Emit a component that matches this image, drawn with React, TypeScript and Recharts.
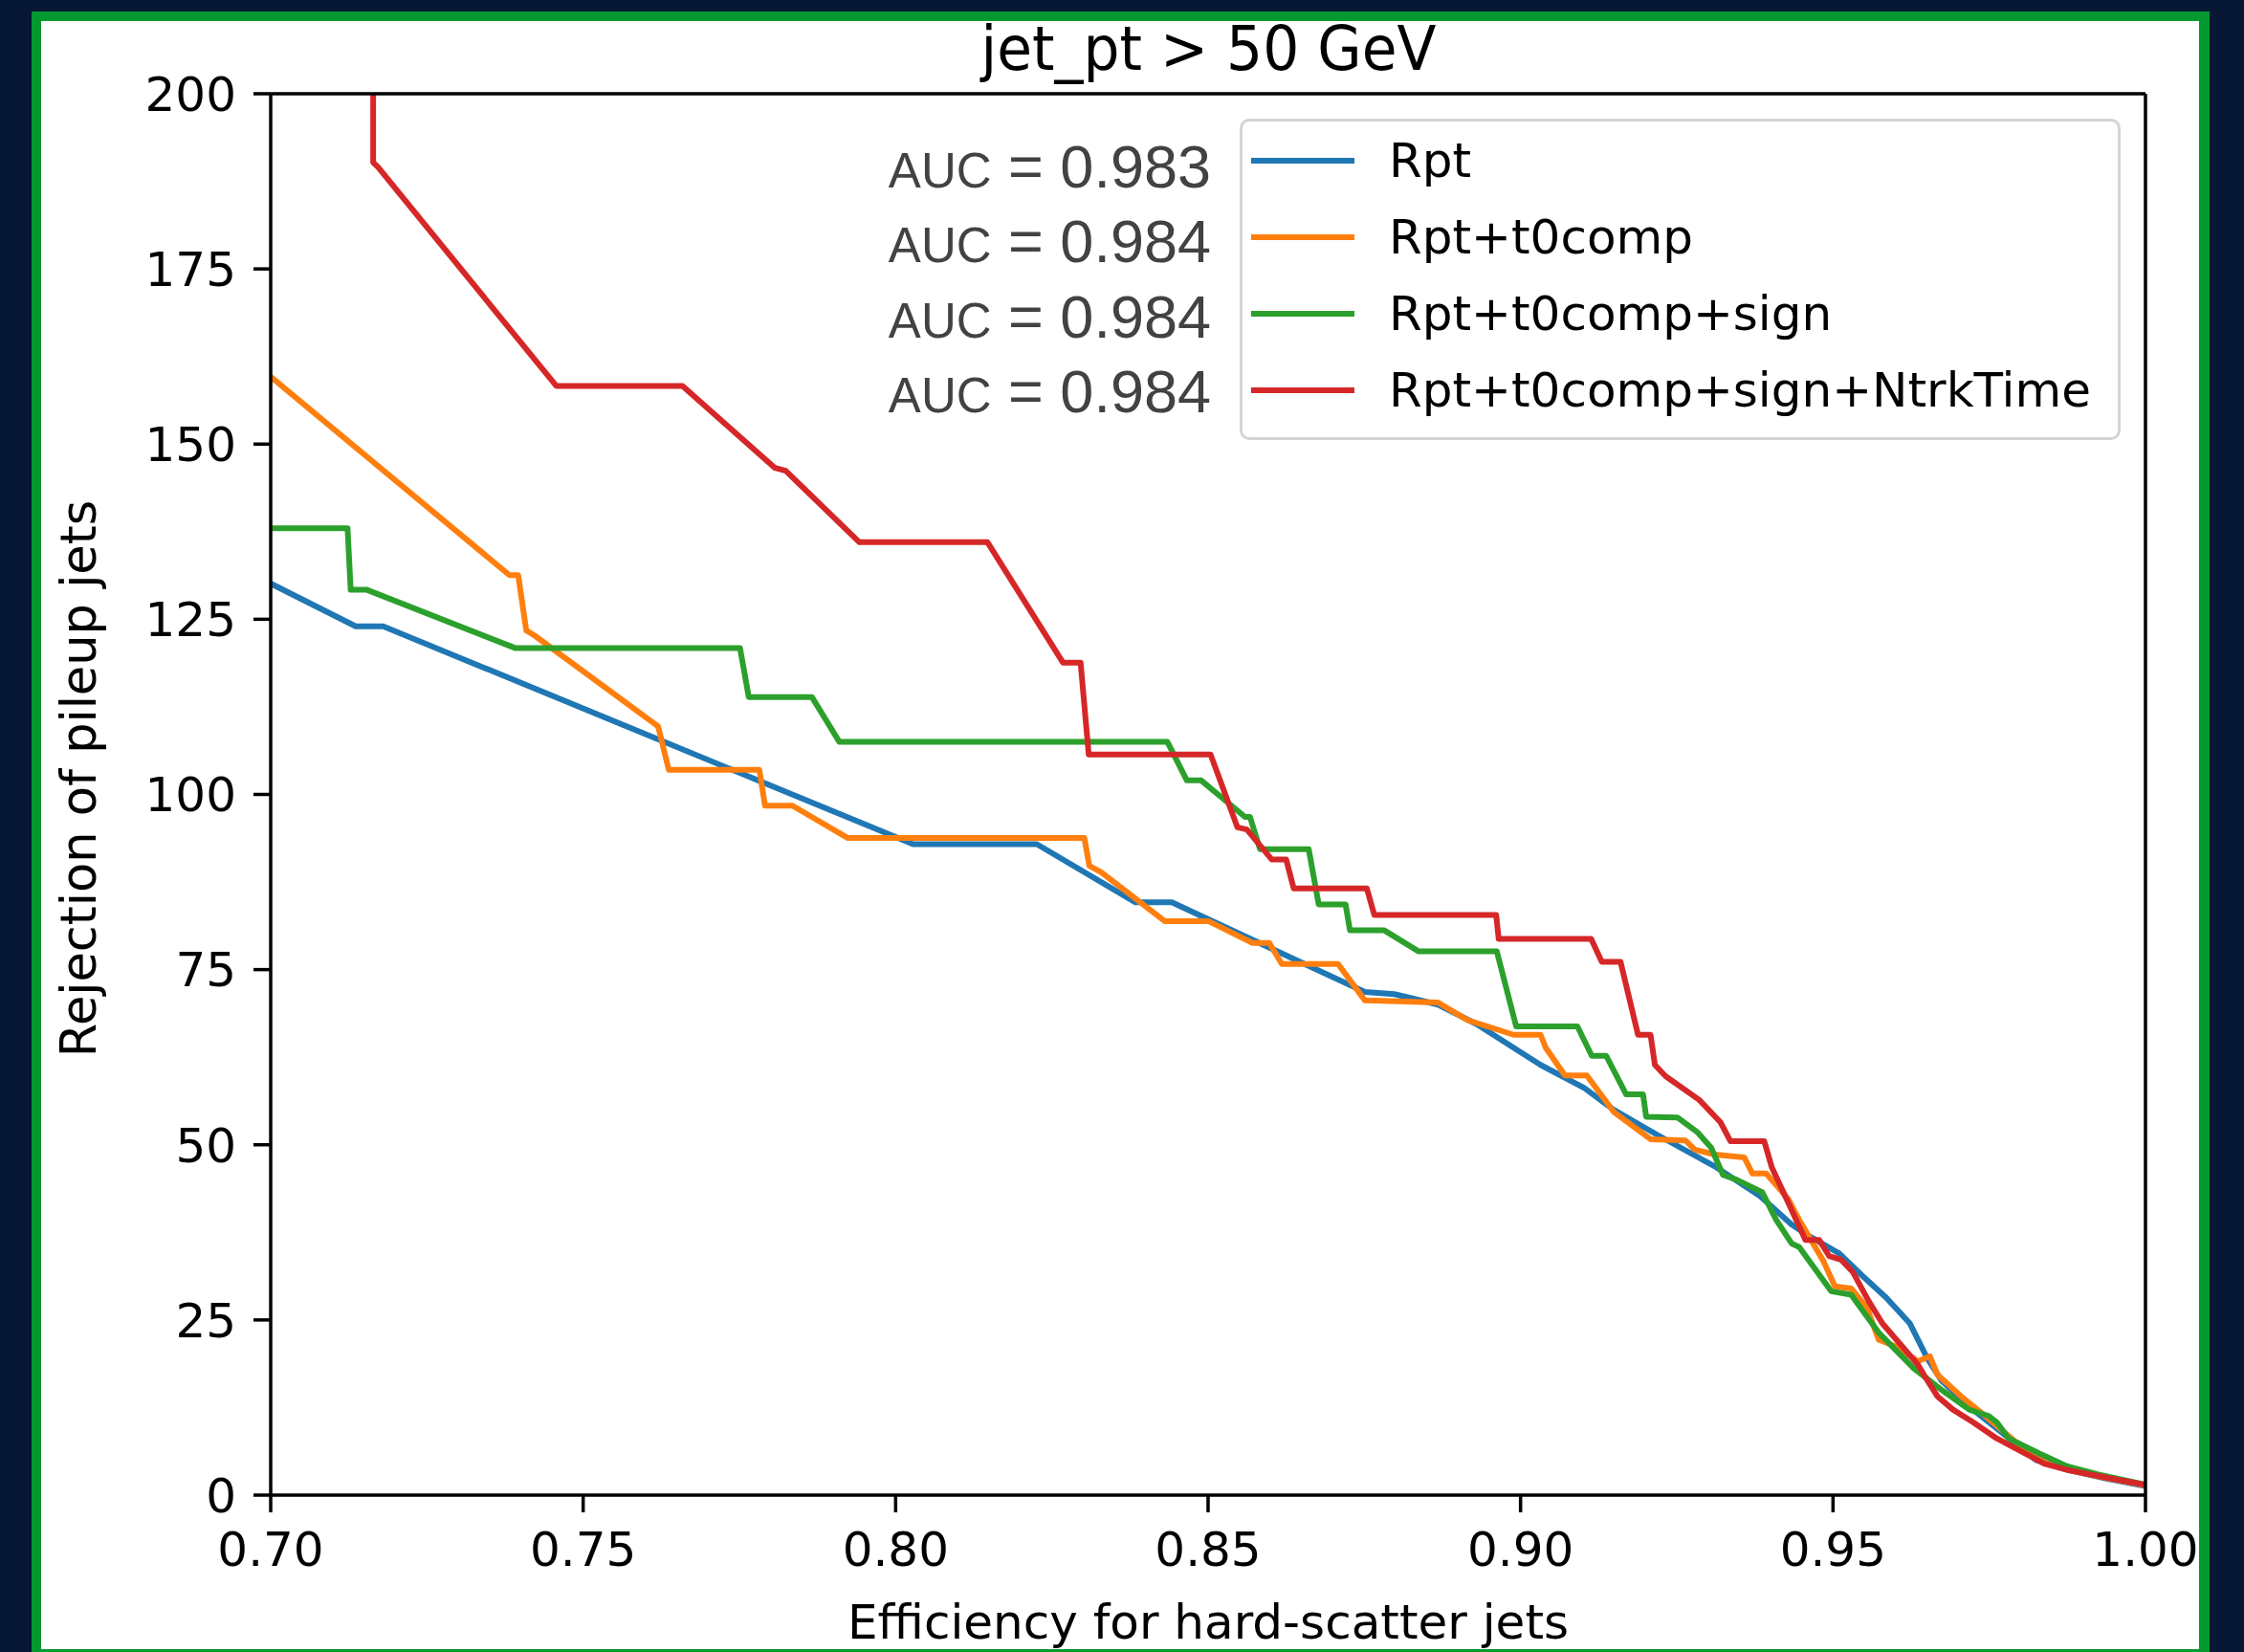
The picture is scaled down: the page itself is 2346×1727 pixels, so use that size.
import React from 'react';
import { LineChart, Line, XAxis, YAxis, Legend, ReferenceLine } from 'recharts';

// axis ticks
const xTicks = [0.7, 0.75, 0.8, 0.85, 0.9, 0.95, 1.0];
const yTicks = [0, 25, 50, 75, 100, 125, 150, 175, 200];

// Rpt
const rptEff = [0.7, 0.7136, 0.718, 0.8028, 0.8226, 0.8384, 0.8442, 0.8751, 0.8798, 0.8868, 0.893, 0.9032, 0.9102, 0.9149, 0.9219, 0.9313, 0.9383, 0.9434, 0.9465, 0.951, 0.9547, 0.9585, 0.9623, 0.9651, 0.9674, 0.9724, 0.9768, 0.9825, 0.9875, 0.993, 1.0];
const rptRej = [130.1, 124.0, 124.0, 92.9, 92.9, 84.6, 84.6, 71.8, 71.5, 70.0, 67.2, 61.4, 58.1, 55.0, 51.4, 46.8, 42.7, 38.6, 36.8, 34.5, 31.3, 28.2, 24.5, 19.5, 16.3, 12.2, 9.1, 5.0, 3.6, 2.5, 1.3];

// Rpt+t0comp
const t0Eff = [0.7, 0.7382, 0.7396, 0.7409, 0.7422, 0.762, 0.7637, 0.7782, 0.7791, 0.7835, 0.7923, 0.8302, 0.831, 0.8329, 0.8431, 0.8501, 0.8571, 0.8598, 0.8618, 0.8708, 0.8751, 0.8868, 0.8915, 0.8989, 0.9032, 0.904, 0.9071, 0.9106, 0.9149, 0.9208, 0.9264, 0.9279, 0.9311, 0.9358, 0.9371, 0.9393, 0.9428, 0.9447, 0.9484, 0.9503, 0.9529, 0.9554, 0.9573, 0.9598, 0.9636, 0.9655, 0.9667, 0.9705, 0.9749, 0.98, 0.984, 0.988, 0.993, 1.0];
const t0Rej = [159.6, 131.3, 131.3, 123.4, 122.7, 109.7, 103.5, 103.5, 98.4, 98.4, 93.8, 93.8, 89.8, 88.9, 81.9, 81.9, 78.8, 78.8, 75.8, 75.8, 70.6, 70.3, 67.8, 65.7, 65.7, 63.9, 59.9, 59.9, 54.7, 50.8, 50.6, 49.3, 48.6, 48.2, 45.9, 45.9, 42.3, 39.1, 33.5, 29.8, 29.5, 26.8, 22.2, 21.3, 19.1, 19.8, 17.2, 14.1, 10.9, 7.0, 4.6, 3.5, 2.6, 1.4];

// Rpt+t0comp+sign
const signEff = [0.7, 0.7123, 0.7128, 0.7154, 0.7391, 0.7751, 0.7765, 0.7866, 0.791, 0.8435, 0.8466, 0.8489, 0.8559, 0.8567, 0.8583, 0.8661, 0.8677, 0.872, 0.8727, 0.8782, 0.8837, 0.8962, 0.8993, 0.9091, 0.9114, 0.9137, 0.9169, 0.9196, 0.9201, 0.9251, 0.9283, 0.9305, 0.9324, 0.9346, 0.9387, 0.9409, 0.9434, 0.9446, 0.9497, 0.9529, 0.9573, 0.9629, 0.9674, 0.9718, 0.9749, 0.9762, 0.9781, 0.9831, 0.9875, 0.9926, 1.0];
const signRej = [138.0, 138.0, 129.2, 129.2, 120.9, 120.9, 113.9, 113.9, 107.5, 107.5, 102.0, 102.0, 96.8, 96.8, 92.2, 92.2, 84.3, 84.3, 80.6, 80.6, 77.6, 77.6, 66.9, 66.9, 62.7, 62.7, 57.2, 57.2, 54.0, 53.9, 51.8, 49.6, 45.7, 45.0, 43.2, 39.3, 35.9, 35.4, 29.1, 28.6, 23.2, 18.1, 15.0, 12.2, 11.3, 10.4, 8.1, 5.9, 4.1, 2.9, 1.5];

// Rpt+t0comp+sign+NtrkTime
const ntrkEff = [0.7164, 0.7164, 0.7172, 0.7457, 0.7659, 0.7807, 0.7824, 0.7942, 0.8147, 0.8268, 0.8296, 0.8309, 0.8504, 0.8547, 0.8562, 0.8602, 0.8625, 0.8637, 0.8754, 0.8766, 0.8961, 0.8965, 0.9113, 0.913, 0.916, 0.9188, 0.9208, 0.9215, 0.9232, 0.9286, 0.932, 0.9336, 0.939, 0.9402, 0.9428, 0.9456, 0.9478, 0.9494, 0.9513, 0.9532, 0.9557, 0.9579, 0.961, 0.9636, 0.9648, 0.9667, 0.9692, 0.9724, 0.9762, 0.98, 0.9838, 0.9875, 0.9926, 0.9998];
const ntrkRej = [250, 190.2, 189.5, 158.3, 158.3, 146.6, 146.2, 136.0, 136.0, 118.8, 118.8, 105.7, 105.7, 95.3, 95.0, 90.7, 90.7, 86.6, 86.6, 82.8, 82.8, 79.4, 79.4, 76.1, 76.1, 65.7, 65.7, 61.4, 59.8, 56.4, 53.2, 50.5, 50.5, 46.8, 41.8, 36.4, 36.4, 34.1, 33.6, 31.8, 27.7, 24.5, 21.3, 18.6, 16.8, 14.1, 12.2, 10.4, 8.1, 6.3, 4.5, 3.6, 2.7, 1.5];

const seriesNames = ['Rpt', 'Rpt+t0comp', 'Rpt+t0comp+sign', 'Rpt+t0comp+sign+NtrkTime'];
const seriesColors = ['#1f77b4', '#ff7f0e', '#2ca02c', '#d62728'];
const aucValues = ['0.983', '0.984', '0.984', '0.984'];

const toPoints = (xs: number[], ys: number[]) => xs.map((x, i) => ({ x, y: ys[i] }));

const series = [
  toPoints(rptEff, rptRej),
  toPoints(t0Eff, t0Rej),
  toPoints(signEff, signRej),
  toPoints(ntrkEff, ntrkRej),
];

const FONT = "'DejaVu Sans', sans-serif";
const tickStyle = { fontFamily: FONT, fontSize: 50, fill: '#000' };

// matplotlib-ish framed legend
// eslint-disable-next-line @typescript-eslint/no-explicit-any
const MplLegend = ({ payload }: any) => (
  <div
    style={{
      boxSizing: 'border-box',
      width: 921,
      height: 336,
      border: '3px solid #d4d4d4',
      borderRadius: 10,
      background: 'rgba(255,255,255,0.85)',
      paddingTop: 1,
    }}
  >
    {(payload || []).map((entry: any) => (
      <div key={entry.value} style={{ display: 'flex', alignItems: 'center', height: 80 }}>
        <div style={{ marginLeft: 9, width: 108, height: 6, background: entry.color }} />
        <span style={{ marginLeft: 36, fontFamily: FONT, fontSize: 50, lineHeight: '80px', color: '#000', whiteSpace: 'nowrap' }}>
          {entry.value}
        </span>
      </div>
    ))}
  </div>
);

export default function App() {
  return (
    <div style={{ position: 'absolute', left: 0, top: 0, width: 2346, height: 1727, background: '#061834', overflow: 'hidden' }}>
      <div style={{ position: 'absolute', left: 43, top: 22, width: 2256, height: 1702, background: '#fff' }} />

      <div style={{ position: 'absolute', left: 0, top: 0 }}>
        <LineChart width={2346} height={1727} margin={{ top: 98, right: 103, bottom: 14, left: 43 }}>
          <XAxis
            type="number"
            dataKey="x"
            domain={[0.7, 1.0]}
            ticks={xTicks}
            interval={0}
            allowDataOverflow
            tickFormatter={(v: number) => v.toFixed(2)}
            height={150}
            tickSize={18}
            tickMargin={20}
            tick={tickStyle}
            axisLine={{ stroke: '#000', strokeWidth: 3.5 }}
            tickLine={{ stroke: '#000', strokeWidth: 3.5 }}
          />
          <YAxis
            type="number"
            domain={[0, 200]}
            ticks={yTicks}
            interval={0}
            allowDataOverflow
            width={240}
            tickSize={18}
            tickMargin={18}
            tick={tickStyle}
            axisLine={{ stroke: '#000', strokeWidth: 3.5 }}
            tickLine={{ stroke: '#000', strokeWidth: 3.5 }}
          />
          {series.map((pts, i) => (
            <Line
              key={seriesNames[i]}
              data={pts}
              dataKey="y"
              name={seriesNames[i]}
              type="linear"
              stroke={seriesColors[i]}
              strokeWidth={6}
              strokeLinejoin="round"
              dot={false}
              activeDot={false}
              isAnimationActive={false}
            />
          ))}
          <ReferenceLine y={200} stroke="#000" strokeWidth={3.5} />
          <ReferenceLine x={1} stroke="#000" strokeWidth={3.5} />
          <Legend
            layout="horizontal"
            verticalAlign="middle"
            align="center"
            content={<MplLegend />}
            wrapperStyle={{ left: 1296, top: 124, width: 921, height: 336 }}
          />
        </LineChart>
      </div>

      <svg width={2346} height={1727} style={{ position: 'absolute', left: 0, top: 0, pointerEvents: 'none' }}>
        <text x={1263.5} y={73} textAnchor="middle" fontFamily={FONT} fontSize={64} textLength={476} lengthAdjust="spacingAndGlyphs" fill="#000">
          jet_pt &gt; 50 GeV
        </text>
        <text x={1263} y={1713} textAnchor="middle" fontFamily={FONT} fontSize={50} fill="#000">
          Efficiency for hard-scatter jets
        </text>
        <text transform="translate(100,814) rotate(-90)" textAnchor="middle" fontFamily={FONT} fontSize={51} fill="#000">
          Rejection of pileup jets
        </text>
        {aucValues.map((v, i) => (
          <text key={i} x={1266} y={196 + i * 78.3} textAnchor="end" fontFamily="'Liberation Sans', Arial, sans-serif" fill="#424242" style={{ whiteSpace: 'pre' }}>
            <tspan fontSize={51}>{'AUC'}</tspan>
            <tspan fontSize={63}>{' = ' + v}</tspan>
          </text>
        ))}
      </svg>

      <div
        style={{
          position: 'absolute',
          left: 33,
          top: 12,
          width: 2277,
          height: 1715,
          boxSizing: 'border-box',
          borderStyle: 'solid',
          borderColor: '#03992f',
          borderWidth: '10px 11px 3px 10px',
          pointerEvents: 'none',
        }}
      />
    </div>
  );
}
